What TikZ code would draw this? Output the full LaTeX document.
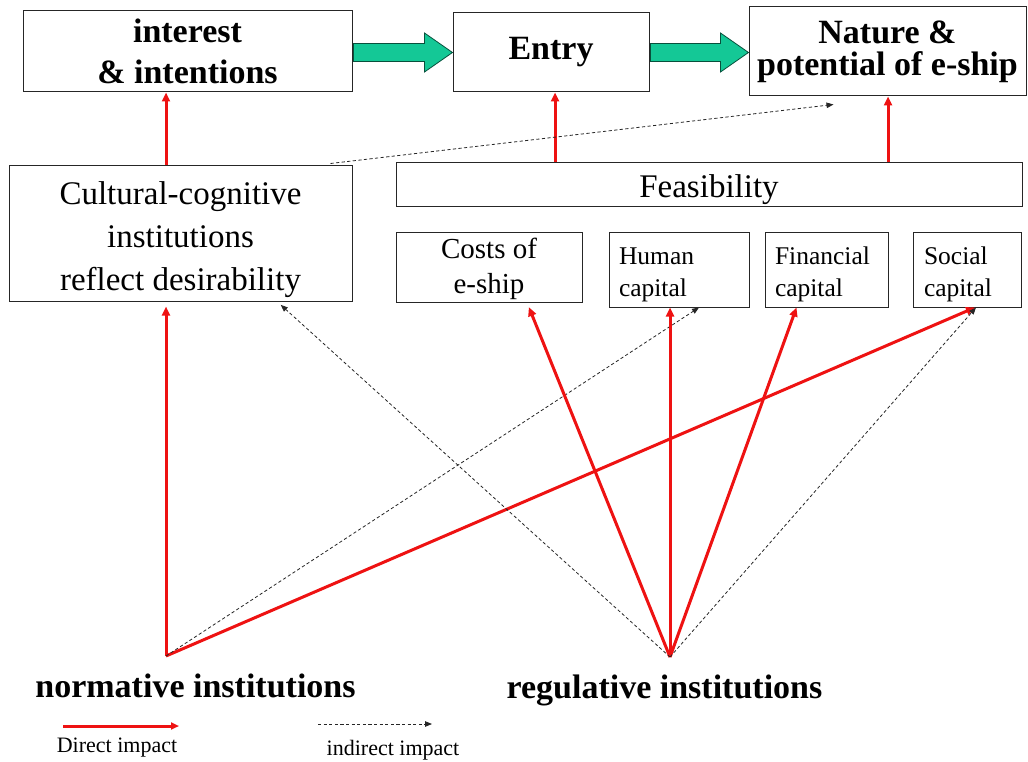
\documentclass[tikz,border=0pt]{standalone}
\usepackage{fontspec}
\setmainfont{Liberation Serif}
\usetikzlibrary{calc,arrows.meta}
\definecolor{gfill}{RGB}{20,200,150}
\definecolor{dred}{RGB}{238,18,18}
\begin{document}
\begin{tikzpicture}[x=1pt,y=-1pt,
  box/.style={draw=black!85,line width=1pt,inner sep=0pt,align=center},
  lbox/.style={draw=black!85,line width=1pt,inner ysep=0pt,align=left},
  direct/.style={draw=dred,line width=3pt,-{Triangle[length=9pt,width=8pt]}},
  indirect/.style={draw=black!85,line width=0.8pt,dash pattern=on 3.2pt off 2.4pt,-{Triangle[length=7pt,width=5.5pt]}},
  garrow/.style={fill=gfill,draw=black!60!gfill,line width=0.8pt},
  bigb/.style={font=\fontsize{34}{41}\selectfont\bfseries},
  mid/.style={font=\fontsize{33}{43}\selectfont},
  small/.style={font=\fontsize{25.5}{32}\selectfont},
  leg/.style={font=\fontsize{22}{26}\selectfont}]
\useasboundingbox (0,0) rectangle (1028,762);
% top row
\node[box,bigb,minimum width=329pt,minimum height=81pt] (int) at (187.5,51.5) {interest\\\& intentions};
\node[box,bigb,minimum width=196pt,minimum height=79pt] (ent) at (551,52.5) {Entry};
\node[box,minimum width=277pt,minimum height=89pt,font=\fontsize{34}{32}\selectfont\bfseries] (nat) at (887.5,51.5) {Nature \&\\potential of e-ship};
% middle
\node[box,mid,minimum width=343pt,minimum height=135pt] (cult) at (180.5,233.5) {\rule{0pt}{34.5pt}Cultural-cognitive\\institutions\\reflect desirability};
\node[box,mid,minimum width=626pt,minimum height=44pt] (feas) at (709,185) {\rule{0pt}{32pt}Feasibility};
\node[box,minimum width=186pt,minimum height=69pt,font=\fontsize{29}{35}\selectfont] (cost) at (489,267.5) {\rule{0pt}{24pt}Costs of\\e-ship};
\node[lbox,small,minimum width=140pt,minimum height=74pt,inner xsep=10pt,text width=120pt] (hum) at (679,270) {\rule{0pt}{25.5pt}Human\\capital};
\node[lbox,small,minimum width=123pt,minimum height=74pt,inner xsep=10pt,text width=103pt] (fin) at (826.5,270) {\rule{0pt}{25.5pt}Financial\\capital};
\node[lbox,small,minimum width=108pt,minimum height=74pt,inner xsep=11pt,text width=86pt] (soc) at (967,270) {\rule{0pt}{25.5pt}Social\\capital};
% bottom labels
\coordinate (N) at (166,656);
\coordinate (R) at (670,657);
\node[bigb,anchor=base] (norm) at (195.5,697) {normative institutions};
\node[bigb,anchor=base] (reg) at (664.5,698) {regulative institutions};
% green arrows
\draw[garrow] ($(int.east|-ent.west)+(1,-9)$) -- ($(ent.west)+(-28,-9)$) -- ($(ent.west)+(-28,-19.5)$) -- (ent.west) -- ($(ent.west)+(-28,19.5)$) -- ($(ent.west)+(-28,9)$) -- ($(int.east|-ent.west)+(1,9)$) -- cycle;
\draw[garrow] ($(ent.east)+(1,-9)$) -- ($(nat.west|-ent.east)+(-28,-9)$) -- ($(nat.west|-ent.east)+(-28,-19.5)$) -- (nat.west|-ent.east) -- ($(nat.west|-ent.east)+(-28,19.5)$) -- ($(nat.west|-ent.east)+(-28,9)$) -- ($(ent.east)+(1,9)$) -- cycle;
% upper arrows
\draw[direct] (N|-cult.north) -- (N|-int.south);
\draw[direct] ($(feas.north-|ent.south)+(4,0)$) -- ($(ent.south)+(4,0)$);
\draw[direct] ($(feas.north-|nat.south)+(0.5,0)$) -- ($(nat.south)+(0.5,0)$);
\draw[indirect] ($(cult.north east)+(-22,-2)$) -- ($(nat.south)+(-54,8)$);
% lower arrows from normative
\draw[direct,shorten >=5pt] (N) -- (N|-cult.south);
\draw[direct] (N) -- ($(soc.south)+(8,0)$);
\draw[indirect] (N) -- ($(hum.south)+(20,0)$);
% lower arrows from regulative
\draw[direct,shorten >=5pt] (R) -- ($(cost.south)+(38,0)$);
\draw[direct] (R) -- (R|-hum.south);
\draw[direct] (R) -- ($(fin.south)+(-30,0)$);
\draw[indirect,shorten >=5pt] (R) -- ($(cult.south)+(96.5,0)$);
\draw[indirect] (R) -- ($(soc.south)+(9,0)$);
% legend
\coordinate (d1) at (63,726);
\coordinate (d2) at (179,726);
\coordinate (i1) at (318,724);
\coordinate (i2) at (432,724);
\draw[direct,-{Triangle[length=8pt,width=7pt]}] (d1) -- (d2);
\draw[indirect] (i1) -- (i2);
\node[leg,anchor=base] (dl) at (117,752) {Direct impact};
\node[leg,anchor=base] (il) at (393,755) {indirect impact};
\end{tikzpicture}
\end{document}
